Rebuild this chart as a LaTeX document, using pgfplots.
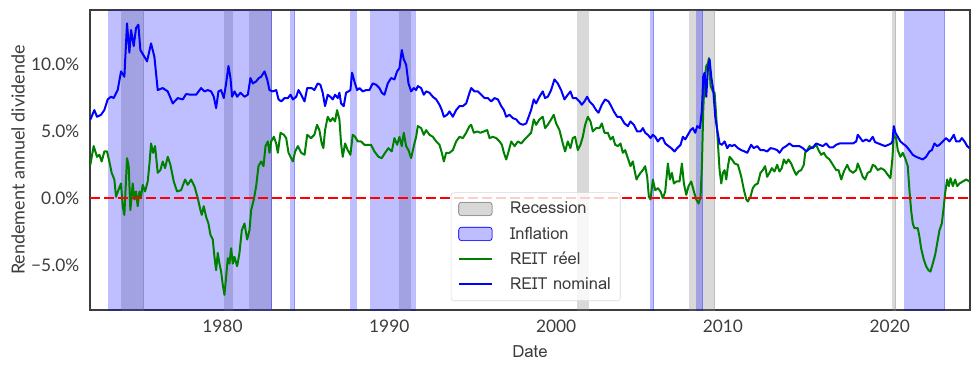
\documentclass[border=0pt]{standalone}
\usepackage{fontspec}
\setmainfont{Loma}
\newfontfamily\latofont{Lato}
\usepackage{pgfplots}
\pgfplotsset{compat=1.18}
\usepackage{pgfplotstable}
\usetikzlibrary{calc}
\definecolor{mplgreen}{HTML}{008000}
\definecolor{mplblue}{HTML}{0000FF}
\definecolor{mplred}{HTML}{FF0000}
\definecolor{txtgray}{HTML}{3C3C3C}

\pgfplotstableread{
year val
1972.08 5.88
1972.32 6.6
1972.48 6.1
1972.72 6.25
1972.92 6.6
1973.12 7.4
1973.32 7.6
1973.48 7.5
1973.72 8.1
1973.92 9.5
1974.12 9.1
1974.28 13.1
1974.42 10.9
1974.52 12.6
1974.68 11.4
1974.82 12.75
1974.96 13.0
1975.08 11.1
1975.32 10.6
1975.48 10.25
1975.72 11.6
1975.92 10.6
1976.12 8.1
1976.42 8.25
1976.72 8.0
1977.02 7.1
1977.32 7.5
1977.62 7.4
1977.82 7.8
1978.12 7.75
1978.42 7.75
1978.72 8.25
1978.92 8.0
1979.12 8.1
1979.32 8.0
1979.48 7.6
1979.62 6.75
1979.76 8.0
1979.92 8.1
1980.08 7.5
1980.22 8.6
1980.36 9.9
1980.48 9.0
1980.58 7.6
1980.72 8.0
1980.88 7.6
1981.08 7.9
1981.32 7.6
1981.52 7.75
1981.68 9.0
1981.82 8.6
1982.02 8.75
1982.18 9.0
1982.32 9.1
1982.52 9.5
1982.68 8.9
1982.82 8.1
1983.02 8.0
1983.22 8.1
1983.36 7.4
1983.52 7.25
1983.72 7.5
1983.92 7.5
1984.08 7.75
1984.22 7.4
1984.42 7.6
1984.56 8.1
1984.72 7.75
1984.92 7.25
1985.08 8.25
1985.35 8.25
1985.51 8.1
1985.71 8.6
1985.87 8.5
1986.01 7.9
1986.15 6.9
1986.31 7.75
1986.47 7.6
1986.61 7.4
1986.75 7.75
1986.91 7.5
1987.01 7.9
1987.11 7.1
1987.27 6.9
1987.41 7.9
1987.55 8.0
1987.67 8.1
1987.77 9.4
1987.91 8.75
1988.07 8.1
1988.21 8.25
1988.41 8.0
1988.61 8.1
1988.81 8.1
1989.01 8.6
1989.21 8.5
1989.41 8.25
1989.55 7.9
1989.71 7.75
1989.91 8.6
1990.11 9.0
1990.31 8.9
1990.47 9.5
1990.61 9.75
1990.75 11.1
1990.87 10.4
1991.01 10.0
1991.15 8.6
1991.31 8.0
1991.47 8.25
1991.61 8.1
1991.71 8.4
1991.91 8.25
1992.07 7.75
1992.21 8.0
1992.41 7.9
1992.61 7.6
1992.81 7.4
1993.01 7.0
1993.15 6.6
1993.27 6.1
1993.47 6.25
1993.61 6.5
1993.81 6.1
1994.01 6.6
1994.21 6.9
1994.41 6.9
1994.61 7.1
1994.81 7.9
1994.91 8.25
1995.11 8.0
1995.31 8.0
1995.51 7.75
1995.71 7.5
1995.91 7.5
1996.11 7.25
1996.31 7.5
1996.51 7.4
1996.71 6.9
1996.87 6.6
1997.01 6.1
1997.21 6.25
1997.41 6.0
1997.61 5.9
1997.81 5.6
1998.01 5.5
1998.21 5.6
1998.50 6.6
1998.66 7.4
1998.80 7.1
1999.00 7.6
1999.20 8.0
1999.34 7.5
1999.50 7.6
1999.70 8.1
1999.90 8.9
2000.10 8.6
2000.30 8.1
2000.50 7.4
2000.70 7.75
2000.86 8.0
2001.00 7.5
2001.20 7.5
2001.40 7.25
2001.54 7.0
2001.70 7.25
2001.86 7.6
2002.00 7.25
2002.20 7.0
2002.40 6.6
2002.54 6.4
2002.74 7.0
2002.94 7.4
2003.14 7.25
2003.30 6.9
2003.46 6.5
2003.66 6.1
2003.86 6.1
2004.10 5.6
2004.30 5.4
2004.46 5.75
2004.66 5.5
2004.86 5.0
2005.06 5.0
2005.20 5.25
2005.34 4.9
2005.50 4.75
2005.66 4.5
2005.80 4.75
2005.94 4.6
2006.10 4.25
2006.26 4.5
2006.40 4.5
2006.54 4.1
2006.74 3.9
2006.90 3.75
2007.10 3.5
2007.26 3.75
2007.46 4.0
2007.60 4.6
2007.74 4.4
2007.90 4.75
2008.06 5.1
2008.20 5.25
2008.34 4.9
2008.46 5.4
2008.62 5.25
2008.74 6.6
2008.82 9.1
2008.90 9.4
2009.00 7.6
2009.10 9.75
2009.20 10.4
2009.30 9.1
2009.42 8.1
2009.54 6.1
2009.66 5.1
2009.80 4.1
2009.94 4.0
2010.10 4.25
2010.26 3.75
2010.40 4.0
2010.54 3.9
2010.70 4.0
2010.90 3.75
2011.10 3.6
2011.30 3.5
2011.46 3.4
2011.69 4.0
2011.85 3.75
2012.05 3.9
2012.25 3.6
2012.45 3.6
2012.65 3.5
2012.85 3.75
2013.05 3.7
2013.25 3.6
2013.39 3.4
2013.59 3.75
2013.79 3.9
2013.99 4.1
2014.19 3.9
2014.39 3.9
2014.59 3.9
2014.79 3.75
2014.99 3.5
2015.19 3.7
2015.39 3.8
2015.59 4.1
2015.79 4.0
2015.99 3.9
2016.19 4.1
2016.39 3.8
2016.59 3.8
2016.79 4.0
2016.99 4.1
2017.19 4.1
2017.39 4.1
2017.59 4.1
2017.79 4.1
2017.99 4.25
2018.08 4.75
2018.24 4.5
2018.38 4.25
2018.58 4.4
2018.78 4.25
2018.98 4.6
2019.12 4.2
2019.32 4.1
2019.52 4.0
2019.72 3.9
2019.92 4.0
2020.08 4.1
2020.16 4.25
2020.24 5.4
2020.34 4.9
2020.48 4.6
2020.64 4.25
2020.78 4.1
2020.98 3.9
2021.18 3.6
2021.38 3.25
2021.58 3.1
2021.78 3.0
2021.98 2.9
2022.18 3.1
2022.38 3.5
2022.52 3.6
2022.68 4.1
2022.84 3.9
2022.98 4.0
2023.18 4.25
2023.38 4.5
2023.58 4.25
2023.72 4.5
2023.84 4.75
2023.98 4.25
2024.18 4.25
2024.32 4.5
2024.48 4.25
2024.64 3.9
2024.78 3.75
}\nominal

\pgfplotstableread{
year val
1972.08 2.5
1972.28 3.9
1972.48 3.1
1972.62 3.25
1972.76 2.75
1972.92 3.5
1973.08 3.5
1973.22 2.75
1973.36 1.9
1973.52 1.4
1973.62 0.1
1973.76 0.6
1973.92 1.1
1974.02 -0.6
1974.12 -1.25
1974.28 3.0
1974.38 2.4
1974.48 -0.9
1974.62 1.1
1974.72 -0.1
1974.82 0.5
1974.92 -0.6
1975.02 0.5
1975.12 0.1
1975.22 1.0
1975.36 0.5
1975.52 1.25
1975.62 2.5
1975.72 4.1
1975.84 3.4
1975.96 3.9
1976.12 1.9
1976.28 2.1
1976.42 2.75
1976.56 2.25
1976.72 3.1
1976.88 2.5
1977.08 1.25
1977.28 0.5
1977.52 0.6
1977.76 1.4
1977.92 1.0
1978.12 1.4
1978.32 0.9
1978.52 0.0
1978.68 -0.9
1978.76 -1.25
1978.88 -0.6
1979.02 -1.4
1979.16 -1.9
1979.28 -2.75
1979.42 -3.1
1979.52 -4.4
1979.62 -5.4
1979.72 -4.1
1979.82 -4.9
1979.92 -5.5
1980.02 -6.5
1980.12 -7.25
1980.22 -5.9
1980.32 -4.5
1980.42 -4.9
1980.52 -3.75
1980.62 -4.9
1980.72 -4.4
1980.88 -5.1
1981.02 -4.1
1981.16 -2.4
1981.32 -1.9
1981.48 -3.1
1981.62 -2.4
1981.72 -0.9
1981.88 -0.1
1982.02 0.9
1982.16 2.4
1982.32 2.75
1982.46 2.4
1982.58 3.9
1982.72 4.25
1982.82 3.4
1982.92 4.25
1983.08 4.6
1983.22 4.1
1983.32 3.4
1983.48 4.9
1983.68 4.75
1983.82 4.5
1983.96 3.4
1984.08 3.1
1984.22 2.75
1984.36 3.5
1984.52 3.9
1984.72 3.4
1984.92 3.25
1985.08 4.75
1985.31 4.5
1985.51 4.75
1985.67 5.5
1985.81 5.1
1985.95 4.1
1986.05 3.75
1986.15 5.1
1986.31 6.1
1986.47 5.75
1986.61 6.0
1986.75 5.75
1986.87 6.6
1987.01 5.9
1987.11 4.1
1987.21 3.1
1987.35 4.1
1987.51 3.6
1987.67 3.25
1987.81 4.75
1987.95 4.6
1988.11 4.25
1988.31 4.25
1988.51 4.0
1988.71 4.0
1988.91 4.0
1989.11 3.5
1989.35 3.1
1989.55 3.0
1989.75 3.4
1989.95 3.75
1990.15 3.5
1990.31 4.5
1990.47 4.0
1990.61 4.6
1990.75 3.9
1990.87 4.9
1991.01 3.9
1991.15 3.6
1991.31 3.0
1991.47 3.9
1991.61 4.6
1991.71 5.4
1991.91 5.25
1992.07 4.75
1992.21 5.1
1992.41 4.75
1992.61 4.6
1992.81 4.25
1993.01 4.0
1993.15 3.4
1993.27 2.75
1993.41 3.4
1993.61 3.4
1993.81 3.6
1994.01 4.25
1994.21 4.6
1994.41 4.5
1994.61 4.9
1994.81 5.4
1994.91 5.5
1995.07 4.9
1995.27 5.0
1995.47 4.9
1995.67 5.0
1995.87 5.1
1996.01 4.5
1996.21 4.6
1996.41 4.5
1996.61 4.25
1996.75 4.0
1996.87 3.4
1997.01 2.9
1997.15 3.5
1997.31 4.25
1997.51 3.9
1997.71 4.25
1997.91 4.1
1998.11 4.4
1998.50 4.9
1998.66 5.9
1998.80 5.5
1999.00 5.9
1999.20 6.1
1999.34 5.25
1999.50 5.5
1999.70 5.9
1999.86 6.25
2000.00 5.6
2000.20 5.1
2000.40 4.1
2000.54 3.5
2000.70 4.25
2000.86 3.75
2001.00 4.5
2001.14 4.6
2001.30 3.6
2001.46 4.0
2001.60 4.6
2001.74 5.5
2001.90 6.1
2002.06 5.75
2002.20 5.0
2002.40 5.25
2002.60 5.25
2002.74 5.6
2002.90 4.9
2003.10 4.9
2003.26 4.4
2003.40 4.6
2003.54 4.0
2003.70 3.9
2003.86 4.1
2004.00 3.4
2004.14 3.6
2004.30 3.0
2004.46 2.4
2004.60 2.75
2004.70 2.1
2004.82 1.4
2004.90 1.6
2005.06 1.9
2005.20 2.1
2005.34 2.4
2005.46 1.6
2005.56 0.1
2005.66 -0.1
2005.80 1.4
2005.94 0.6
2006.10 0.75
2006.26 0.5
2006.40 0.0
2006.54 0.5
2006.70 2.6
2006.82 1.4
2006.94 1.9
2007.06 1.1
2007.20 1.25
2007.40 1.25
2007.54 2.6
2007.66 1.1
2007.80 0.25
2007.94 0.9
2008.10 1.25
2008.26 0.5
2008.40 -0.1
2008.54 -0.4
2008.66 0.1
2008.74 2.4
2008.82 6.6
2008.90 8.9
2009.00 9.9
2009.10 10.1
2009.16 10.5
2009.26 8.4
2009.40 8.0
2009.50 7.9
2009.60 6.1
2009.70 4.1
2009.80 2.1
2009.90 1.1
2010.00 1.9
2010.10 2.1
2010.20 1.4
2010.30 2.4
2010.40 3.1
2010.54 2.9
2010.70 2.6
2010.90 2.5
2011.10 1.6
2011.26 0.6
2011.40 -0.1
2011.49 -0.25
2011.65 0.1
2011.79 0.75
2011.93 1.0
2012.09 1.1
2012.25 1.9
2012.39 2.1
2012.53 2.4
2012.65 1.6
2012.79 1.9
2012.93 2.25
2013.09 2.0
2013.25 2.5
2013.39 2.0
2013.53 2.25
2013.65 2.9
2013.79 2.6
2013.93 2.9
2014.09 2.6
2014.25 2.1
2014.39 1.75
2014.53 2.0
2014.69 2.1
2014.85 2.5
2014.93 3.4
2015.05 3.6
2015.19 3.9
2015.39 3.75
2015.59 4.0
2015.73 3.6
2015.89 3.25
2016.05 3.4
2016.19 3.1
2016.39 2.9
2016.59 2.5
2016.79 2.1
2016.93 2.1
2017.09 1.4
2017.25 2.0
2017.45 2.5
2017.59 2.1
2017.79 1.9
2017.99 2.1
2018.08 2.6
2018.24 2.1
2018.38 1.6
2018.52 1.4
2018.68 1.9
2018.84 2.0
2018.98 2.5
2019.12 2.4
2019.28 2.1
2019.48 2.25
2019.68 2.1
2019.88 1.75
2020.04 1.5
2020.16 3.0
2020.24 4.75
2020.38 4.5
2020.48 3.6
2020.64 3.1
2020.78 3.4
2020.92 3.0
2021.08 2.4
2021.18 0.6
2021.28 -0.9
2021.38 -1.9
2021.48 -2.25
2021.68 -2.25
2021.78 -2.9
2021.88 -3.75
2022.04 -4.6
2022.18 -5.1
2022.32 -5.4
2022.44 -5.5
2022.58 -4.9
2022.72 -4.25
2022.84 -3.4
2022.98 -2.4
2023.12 -1.9
2023.24 -0.6
2023.32 0.4
2023.44 1.4
2023.54 0.9
2023.64 1.5
2023.78 0.9
2023.92 1.4
2024.04 0.9
2024.18 1.1
2024.38 1.25
2024.58 1.4
2024.78 1.25
}\reel

\begin{document}
\begin{tikzpicture}
\begin{axis}[
  name=ax,
  width=660pt, height=225pt, scale only axis,
  xmin=1972.06, xmax=2024.81, ymin=-8.38, ymax=14.1,
  xtick={1980,1990,2000,2010,2020},
  xticklabels={1980,1990,2000,2010,2020},
  ytick={-5,0,5,10},
  yticklabels={−5.0\%,0.0\%,5.0\%,10.0\%},
  major tick length=0pt,
  tick label style={font=\latofont\fontsize{13}{15}\selectfont, text=txtgray},
  xticklabel style={anchor=center, yshift=-12.5pt},
  yticklabel style={anchor=east, xshift=-4.5pt},
  axis line style={draw=txtgray, line width=0.8pt},
  xlabel={Date}, ylabel={Rendement annuel dividende},
  xlabel style={at={(axis description cs:0.5,0)}, anchor=center, yshift=-31.5pt, font=\fontsize{12.6}{14}\selectfont, text=txtgray},
  ylabel style={at={(axis description cs:0,0.5)}, anchor=center, rotate=0, yshift=54pt, font=\latofont\fontsize{13.5}{15}\selectfont, text=txtgray},
  legend style={at={(0.41,0.03)}, anchor=south west, draw=black!15,
    rounded corners=2pt, fill=white, fill opacity=0.8, text opacity=1,
    font=\fontsize{12.4}{14}\selectfont, text=txtgray,
    row sep=4.2pt, column sep=10.8pt, inner xsep=5pt, inner ysep=5pt},
  legend cell align=left,
  clip=true,
]
% Recessions
\addplot[forget plot, fill=gray, fill opacity=0.3, draw=gray, draw opacity=0.3, line width=0.75pt] coordinates {(1973.90,-9) (1975.28,-9) (1975.28,15) (1973.90,15)};
\addplot[forget plot, fill=gray, fill opacity=0.3, draw=gray, draw opacity=0.3, line width=0.75pt] coordinates {(1980.08,-9) (1980.60,-9) (1980.60,15) (1980.08,15)};
\addplot[forget plot, fill=gray, fill opacity=0.3, draw=gray, draw opacity=0.3, line width=0.75pt] coordinates {(1981.60,-9) (1982.94,-9) (1982.94,15) (1981.60,15)};
\addplot[forget plot, fill=gray, fill opacity=0.3, draw=gray, draw opacity=0.3, line width=0.75pt] coordinates {(1990.57,-9) (1991.27,-9) (1991.27,15) (1990.57,15)};
\addplot[forget plot, fill=gray, fill opacity=0.3, draw=gray, draw opacity=0.3, line width=0.75pt] coordinates {(2001.24,-9) (2001.94,-9) (2001.94,15) (2001.24,15)};
\addplot[forget plot, fill=gray, fill opacity=0.3, draw=gray, draw opacity=0.3, line width=0.75pt] coordinates {(2007.96,-9) (2009.50,-9) (2009.50,15) (2007.96,15)};
\addplot[forget plot, fill=gray, fill opacity=0.3, draw=gray, draw opacity=0.3, line width=0.75pt] coordinates {(2020.13,-9) (2020.35,-9) (2020.35,15) (2020.13,15)};
% Inflation
\addplot[forget plot, fill=mplblue, fill opacity=0.25, draw=mplblue, draw opacity=0.25, line width=0.75pt] coordinates {(1973.12,-9) (1982.94,-9) (1982.94,15) (1973.12,15)};
\addplot[forget plot, fill=mplblue, fill opacity=0.25, draw=mplblue, draw opacity=0.25, line width=0.75pt] coordinates {(1984.03,-9) (1984.32,-9) (1984.32,15) (1984.03,15)};
\addplot[forget plot, fill=mplblue, fill opacity=0.25, draw=mplblue, draw opacity=0.25, line width=0.75pt] coordinates {(1987.63,-9) (1988.03,-9) (1988.03,15) (1987.63,15)};
\addplot[forget plot, fill=mplblue, fill opacity=0.25, draw=mplblue, draw opacity=0.25, line width=0.75pt] coordinates {(1988.85,-9) (1991.57,-9) (1991.57,15) (1988.85,15)};
\addplot[forget plot, fill=mplblue, fill opacity=0.25, draw=mplblue, draw opacity=0.25, line width=0.75pt] coordinates {(2005.62,-9) (2005.86,-9) (2005.86,15) (2005.62,15)};
\addplot[forget plot, fill=mplblue, fill opacity=0.25, draw=mplblue, draw opacity=0.25, line width=0.75pt] coordinates {(2008.38,-9) (2008.80,-9) (2008.80,15) (2008.38,15)};
\addplot[forget plot, fill=mplblue, fill opacity=0.25, draw=mplblue, draw opacity=0.25, line width=0.75pt] coordinates {(2020.86,-9) (2023.29,-9) (2023.29,15) (2020.86,15)};

\addlegendimage{legend image code/.code={\fill[gray, fill opacity=0.3] (0pt,-5pt) rectangle (25pt,5pt); \draw[gray, draw opacity=0.3, line width=0.75pt] (0pt,-5pt) rectangle (25pt,5pt);}}
\addlegendentry{Recession}
\addlegendimage{legend image code/.code={\fill[mplblue, fill opacity=0.25] (0pt,-5pt) rectangle (25pt,5pt); \draw[mplblue, draw opacity=0.25, line width=0.75pt] (0pt,-5pt) rectangle (25pt,5pt);}}
\addlegendentry{Inflation}
\addlegendimage{legend image code/.code={\draw[mplgreen, line width=1.5pt, draw opacity=1] (0pt,0pt) -- (25pt,0pt);}}
\addlegendentry{REIT réel}
\addlegendimage{legend image code/.code={\draw[mplblue, line width=1.5pt, draw opacity=1] (0pt,0pt) -- (25pt,0pt);}}
\addlegendentry{REIT nominal}

\addplot[forget plot, mplgreen, line width=1.5pt, line join=round] table[x=year, y=val] {\reel};
\addplot[forget plot, mplblue, line width=1.5pt, line join=round] table[x=year, y=val] {\nominal};

\addplot[forget plot, mplred, line width=1.5pt, dash pattern=on 7.5pt off 3pt] coordinates {(1972.06,0) (2024.81,0)};
\end{axis}
\pgfresetboundingbox
\path ($(ax.south west)+(-67.5pt,-44.25pt)$) rectangle ($(ax.north east)+(7.5pt,7.5pt)$);
\end{tikzpicture}
\end{document}
